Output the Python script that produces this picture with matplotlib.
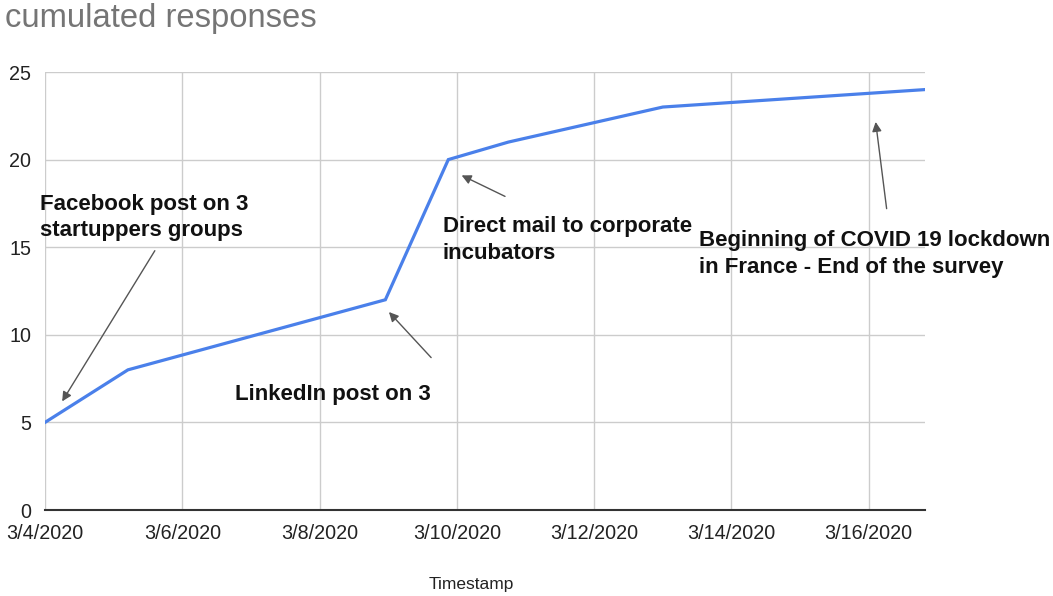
import numpy as np
import pandas as pd
import matplotlib
matplotlib.use("Agg")
import matplotlib.pyplot as plt
import matplotlib.dates as mdates
from matplotlib.ticker import FuncFormatter

plt.rcParams['font.family'] = ['Liberation Sans', 'DejaVu Sans']

# data
timestamps = pd.to_datetime([
    "2020-03-04 00:00", "2020-03-05 05:00", "2020-03-08 23:00",
    "2020-03-09 21:00", "2020-03-10 18:00", "2020-03-13 00:00",
    "2020-03-16 20:00",
])
responses = [5, 8, 12, 20, 21, 23, 24]

x_ticks = pd.date_range("2020-03-04", "2020-03-16", freq="2D")
y_ticks = [0, 5, 10, 15, 20, 25]

# annotations: text, text anchor (date, value), arrow tail, arrow head
notes = [
    ("Facebook post on 3\nstartuppers groups", ("2020-03-03 22:20", 16.7),
     ("2020-03-05 14:24", 14.8), ("2020-03-04 06:00", 6.2)),
    ("LinkedIn post on 3", ("2020-03-06 18:30", 6.6),
     ("2020-03-09 15:00", 8.7), ("2020-03-09 00:15", 11.3)),
    ("Direct mail to corporate\nincubators", ("2020-03-09 19:00", 15.4),
     ("2020-03-10 16:50", 17.9), ("2020-03-10 01:40", 19.1)),
    ("Beginning of COVID 19 lockdown\nin France - End of the survey", ("2020-03-13 12:45", 14.6),
     ("2020-03-16 06:15", 17.2), ("2020-03-16 02:25", 22.15)),
]

fig = plt.figure(figsize=(10.53, 5.96), dpi=100)
ax = fig.add_axes([45/1053, 1 - 510/596, 880/1053, 438/596])

ax.plot(timestamps, responses, color='#4a80ea', linewidth=2.3, solid_joinstyle='miter', zorder=3)

ax.set_xlim(pd.Timestamp("2020-03-04"), pd.Timestamp("2020-03-16 19:40"))
ax.set_ylim(0, 25)
ax.set_xticks(x_ticks)
ax.set_yticks(y_ticks)
ax.xaxis.set_major_formatter(FuncFormatter(
    lambda v, pos: (lambda d: f"{d.month}/{d.day}/{d.year}")(mdates.num2date(v))))

ax.grid(True, color='#cccccc', linewidth=1.0)
ax.set_axisbelow(True)
for side in ['top', 'right', 'left']:
    ax.spines[side].set_visible(False)
ax.spines['bottom'].set_color('#333333')
ax.spines['bottom'].set_linewidth(1.5)
ax.tick_params(length=0, labelsize=14.2, colors='#222222')
ax.tick_params(axis='x', pad=10)
ax.tick_params(axis='y', pad=10)

for text, pos, tail, head in notes:
    ax.text(pd.Timestamp(pos[0]), pos[1], text, fontsize=16, fontweight='bold',
            ha='left', va='center', color='#111111', linespacing=1.35, clip_on=False)
    ax.annotate("", xy=(pd.Timestamp(head[0]), head[1]),
                xytext=(pd.Timestamp(tail[0]), tail[1]),
                arrowprops=dict(arrowstyle='-|>', color='#555555', lw=1.0,
                                mutation_scale=14, shrinkA=0, shrinkB=0))

fig.text(5/1053, 1 - 19/596, "cumulated responses", fontsize=23.6, color='#757575',
         ha='left', va='center')
fig.text(471/1053, 1 - 584/596, "Timestamp", fontsize=12.5, color='#222222',
         ha='center', va='center')

fig.savefig("out.png", dpi=100)
